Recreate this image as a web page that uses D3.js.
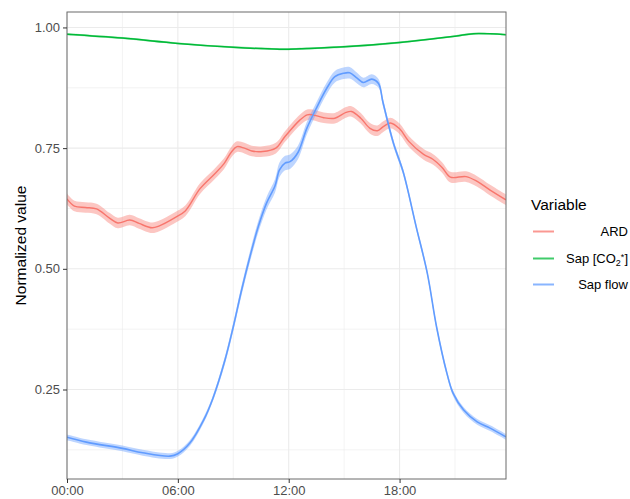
<!DOCTYPE html>
<html>
<head>
<meta charset="utf-8">
<script src="https://cdn.jsdelivr.net/npm/d3@7"></script>
<style>
  html, body { margin: 0; padding: 0; background: #fff; }
  svg { display: block; font-family: "Liberation Sans", Arial, sans-serif; }
</style>
</head>
<body>
<svg id="chart" width="630" height="499"></svg>
<script>
// Diurnal course of normalized variables (hour of day, value, standard error band)
const ardHours  = [0, 0.4, 1.0, 1.6, 2.3, 2.75, 3.4, 3.9, 4.6, 5.0, 5.8, 6.4, 7.2, 8.0, 8.5, 8.9, 9.2, 9.6, 10.0, 10.6, 11.3, 11.8, 12.6, 13.0, 13.3, 13.9, 14.5, 15.1, 15.4, 15.9, 16.4, 16.8, 17.1, 17.5, 18.0, 18.5, 19.3, 19.8, 20.3, 20.75, 21.6, 22.2, 22.9, 23.75];
const ardValues = [0.645, 0.630, 0.627, 0.624, 0.605, 0.595, 0.601, 0.594, 0.585, 0.589, 0.605, 0.620, 0.666, 0.697, 0.718, 0.742, 0.753, 0.750, 0.744, 0.743, 0.750, 0.774, 0.808, 0.819, 0.819, 0.813, 0.812, 0.824, 0.826, 0.812, 0.791, 0.786, 0.794, 0.802, 0.790, 0.764, 0.737, 0.727, 0.710, 0.690, 0.691, 0.681, 0.663, 0.643];
const ardSE = 0.011;

const co2Hours  = [0, 3, 6, 9, 11.5, 12, 15, 18, 21, 22, 23.75];
const co2Values = [0.986, 0.978, 0.967, 0.959, 0.955, 0.955, 0.960, 0.969, 0.982, 0.987, 0.985];
const co2SE = 0.002;

const flowHours  = [0, 1.05, 3, 4.1, 5.57, 6, 6.65, 7.4, 7.9, 8.55, 9.0, 9.45, 9.9, 10.35, 10.8, 11.26, 11.5, 11.8, 12.07, 12.5, 12.98, 13.5, 14.06, 14.5, 14.96, 15.3, 15.7, 16.04, 16.5, 16.86, 17.1, 17.67, 18.2, 18.9, 19.5, 20.0, 20.56, 20.9, 21.46, 22.2, 22.9, 23.75];
const flowValues = [0.151, 0.141, 0.128, 0.119, 0.112, 0.117, 0.139, 0.187, 0.232, 0.311, 0.380, 0.456, 0.525, 0.587, 0.636, 0.672, 0.705, 0.719, 0.722, 0.741, 0.791, 0.833, 0.874, 0.898, 0.905, 0.906, 0.895, 0.886, 0.893, 0.884, 0.845, 0.760, 0.700, 0.587, 0.491, 0.380, 0.284, 0.242, 0.208, 0.183, 0.170, 0.152];
const flowSE     = [0.006, 0.006, 0.006, 0.006, 0.006, 0.006, 0.006, 0.006, 0.006, 0.008, 0.009, 0.010, 0.011, 0.012, 0.013, 0.014, 0.015, 0.015, 0.015, 0.014, 0.013, 0.012, 0.012, 0.012, 0.012, 0.012, 0.011, 0.010, 0.010, 0.009, 0.008, 0.007, 0.006, 0.006, 0.006, 0.006, 0.006, 0.006, 0.006, 0.006, 0.006, 0.006];

const seriesNames  = ["ARD", "Sap [CO2*]", "Sap flow"];
const seriesColors = ["#F8766D", "#00BA38", "#619CFF"];

const xTickHours  = [0, 6, 12, 18];
const xTickLabels = ["00:00", "06:00", "12:00", "18:00"];
const xMinorHours = [3, 9, 15, 21];
const yTicks      = [0.25, 0.50, 0.75, 1.00];
const yMinor      = [0.125, 0.375, 0.625, 0.875];

const series = [
  { name: seriesNames[0], color: seriesColors[0], pts: ardHours.map((h, i) => ({ h, v: ardValues[i], se: ardSE })), lw: 1.4 },
  { name: seriesNames[1], color: seriesColors[1], pts: co2Hours.map((h, i) => ({ h, v: co2Values[i], se: co2SE })), lw: 1.5 },
  { name: seriesNames[2], color: seriesColors[2], pts: flowHours.map((h, i) => ({ h, v: flowValues[i], se: flowSE[i] })), lw: 1.6 }
];

const svg = d3.select("#chart");
const panel = { left: 67, right: 506, top: 12, bottom: 479 };

const x = d3.scaleLinear().domain([0, 23.76]).range([panel.left, panel.right]);
const y = d3.scaleLinear().domain([0.0646, 1.032]).range([panel.bottom, panel.top]);

// grid
const grid = svg.append("g");
grid.selectAll("line.xminor").data(xMinorHours).join("line")
  .attr("x1", d => x(d)).attr("x2", d => x(d))
  .attr("y1", panel.top).attr("y2", panel.bottom)
  .attr("stroke", "#ebebeb").attr("stroke-width", 0.6);
grid.selectAll("line.yminor").data(yMinor).join("line")
  .attr("y1", d => y(d)).attr("y2", d => y(d))
  .attr("x1", panel.left).attr("x2", panel.right)
  .attr("stroke", "#ebebeb").attr("stroke-width", 0.6);
grid.selectAll("line.xmajor").data(xTickHours).join("line")
  .attr("x1", d => x(d)).attr("x2", d => x(d))
  .attr("y1", panel.top).attr("y2", panel.bottom)
  .attr("stroke", "#ebebeb").attr("stroke-width", 1.1);
grid.selectAll("line.ymajor").data(yTicks).join("line")
  .attr("y1", d => y(d)).attr("y2", d => y(d))
  .attr("x1", panel.left).attr("x2", panel.right)
  .attr("stroke", "#ebebeb").attr("stroke-width", 1.1);

svg.append("clipPath").attr("id", "clip").append("rect")
  .attr("x", panel.left).attr("y", panel.top)
  .attr("width", panel.right - panel.left).attr("height", panel.bottom - panel.top);

const plot = svg.append("g").attr("clip-path", "url(#clip)");
const curve = d3.curveCatmullRom.alpha(0.5);

const area = d3.area().curve(curve)
  .x(d => x(d.h)).y0(d => y(d.v - d.se)).y1(d => y(d.v + d.se));
const line = d3.line().curve(curve).x(d => x(d.h)).y(d => y(d.v));

series.forEach(s => {
  plot.append("path").attr("d", area(s.pts))
    .attr("fill", s.color).attr("fill-opacity", 0.42).attr("stroke", "none");
});
series.forEach(s => {
  plot.append("path").attr("d", line(s.pts))
    .attr("fill", "none").attr("stroke", s.color).attr("stroke-width", s.lw);
});

// panel border
svg.append("rect")
  .attr("x", panel.left).attr("y", panel.top)
  .attr("width", panel.right - panel.left).attr("height", panel.bottom - panel.top)
  .attr("fill", "none").attr("stroke", "#6b6b6b").attr("stroke-width", 1);

// axes
const xAxis = d3.axisBottom(x).tickValues(xTickHours)
  .tickFormat((d, i) => xTickLabels[i]).tickSize(4).tickPadding(3);
const gx = svg.append("g").attr("transform", `translate(0,${panel.bottom})`).call(xAxis);
gx.select(".domain").remove();
gx.selectAll(".tick line").attr("stroke", "#333");
gx.selectAll(".tick text").attr("fill", "#4d4d4d").attr("font-size", 13)
  .attr("font-family", "Liberation Sans, Arial, sans-serif");

const yAxis = d3.axisLeft(y).tickValues(yTicks).tickFormat(d3.format(".2f")).tickSize(4).tickPadding(3);
const gy = svg.append("g").attr("transform", `translate(${panel.left},0)`).call(yAxis);
gy.select(".domain").remove();
gy.selectAll(".tick line").attr("stroke", "#333");
gy.selectAll(".tick text").attr("fill", "#4d4d4d").attr("font-size", 13)
  .attr("font-family", "Liberation Sans, Arial, sans-serif");

svg.append("text")
  .attr("transform", `translate(26,${(panel.top + panel.bottom) / 2}) rotate(-90)`)
  .attr("text-anchor", "middle").attr("font-size", 15.5).attr("fill", "#000")
  .text("Normalized value");

// legend
const legend = svg.append("g");
legend.append("text").attr("x", 531).attr("y", 209.5)
  .attr("font-size", 15.5).attr("fill", "#000").text("Variable");

const keyY = [231.5, 258.5, 284.5];
series.forEach((s, i) => {
  legend.append("line")
    .attr("x1", 533).attr("x2", 554).attr("y1", keyY[i]).attr("y2", keyY[i])
    .attr("stroke", s.color).attr("stroke-width", 2).attr("stroke-opacity", 0.75);
  const t = legend.append("text").attr("x", 628).attr("y", keyY[i] + 4.5)
    .attr("text-anchor", "end").attr("font-size", 13).attr("fill", "#000");
  if (i === 1) {
    t.append("tspan").text("Sap [CO");
    t.append("tspan").attr("font-size", 9).attr("dy", 3).text("2");
    t.append("tspan").attr("font-size", 9).attr("dy", -6).text("*");
    t.append("tspan").attr("dy", 3).text("]");
  } else {
    t.text(s.name);
  }
});
</script>
</body>
</html>
